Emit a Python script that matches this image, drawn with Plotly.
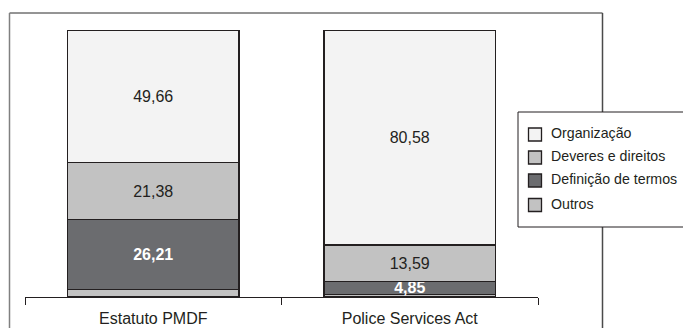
import plotly.graph_objects as go

W, H = 683, 328

categories = ["Estatuto PMDF", "Police Services Act"]
organizacao = [49.66, 80.58]
deveres = [21.38, 13.59]
definicao = [26.21, 4.85]
outros = [2.75, 0.98]

series = [
    # name, values, fill, label colour, bold, show label
    ("Outros", outros, "#c2c2c2", "#231f20", False, False),
    ("Definição de termos", definicao, "#6b6c6f", "#ffffff", True, True),
    ("Deveres e direitos", deveres, "#c2c2c2", "#231f20", False, True),
    ("Organização", organizacao, "#f3f3f3", "#231f20", False, True),
]

FONT = "Liberation Sans, Arial, Helvetica, sans-serif"
EDGE = "#231f20"

fig = go.Figure()
for name, vals, fill, tcol, bold, show in series:
    fig.add_trace(go.Bar(
        x=categories,
        y=vals,
        name=name,
        marker=dict(color=fill, line=dict(color=EDGE, width=1.5)),
        text=[f"{v:.2f}".replace(".", ",") for v in vals] if show else None,
        textposition="inside" if show else "none",
        insidetextanchor="middle",
        textangle=0,
        constraintext="none",
        textfont=dict(family=FONT, size=16, color=tcol,
                      weight="bold" if bold else "normal"),
        hoverinfo="skip",
        showlegend=False,
    ))


def px_x(p):
    return p / W


def px_y(p):
    return 1 - p / H


shapes = [
    # outer frame: top, left, right
    dict(type="line", xref="paper", yref="paper",
         x0=px_x(9.5), x1=px_x(602.5), y0=px_y(13), y1=px_y(13),
         line=dict(color="#2a2a2a", width=1)),
    dict(type="line", xref="paper", yref="paper",
         x0=px_x(9.5), x1=px_x(9.5), y0=px_y(13), y1=px_y(340),
         line=dict(color="#808080", width=1.5)),
    dict(type="line", xref="paper", yref="paper",
         x0=px_x(602.5), x1=px_x(602.5), y0=px_y(13), y1=px_y(340),
         line=dict(color="#4a4a4a", width=1.5)),
    # legend box
    dict(type="rect", xref="paper", yref="paper",
         x0=px_x(518), x1=px_x(720), y0=px_y(227), y1=px_y(112),
         fillcolor="white", line=dict(color=EDGE, width=1)),
]

annotations = []
legend_rows = [134.5, 157.5, 180.5, 205]
for (name, vals, fill, tcol, bold, show), yc in zip(reversed(series), legend_rows):
    shapes.append(dict(
        type="rect", xref="paper", yref="paper",
        x0=px_x(528.5), x1=px_x(541.5), y0=px_y(yc + 6.5), y1=px_y(yc - 6.5),
        fillcolor=fill, line=dict(color=EDGE, width=1.3),
    ))
    annotations.append(dict(
        xref="paper", yref="paper", x=px_x(549), y=px_y(yc - 1.5),
        xanchor="left", yanchor="middle", showarrow=False,
        text=name, font=dict(family=FONT, size=14.2, color=EDGE),
    ))

fig.update_layout(
    width=W, height=H,
    margin=dict(l=0, r=0, t=0, b=0),
    paper_bgcolor="white", plot_bgcolor="white",
    barmode="stack",
    bargap=0.33,
    font=dict(family=FONT, color=EDGE),
    showlegend=False,
    xaxis=dict(
        domain=[px_x(25), px_x(538)],
        showline=True, linecolor=EDGE, linewidth=1,
        ticks="outside", tickson="boundaries", ticklen=7, tickcolor=EDGE,
        ticklabelstandoff=7,
        tickfont=dict(family=FONT, size=16, color=EDGE),
        showgrid=False, zeroline=False,
    ),
    yaxis=dict(
        domain=[px_y(297), px_y(30)],
        range=[0, 100],
        visible=False,
        showgrid=False, zeroline=False,
    ),
    shapes=shapes,
    annotations=annotations,
)

fig.write_html("out.html")
